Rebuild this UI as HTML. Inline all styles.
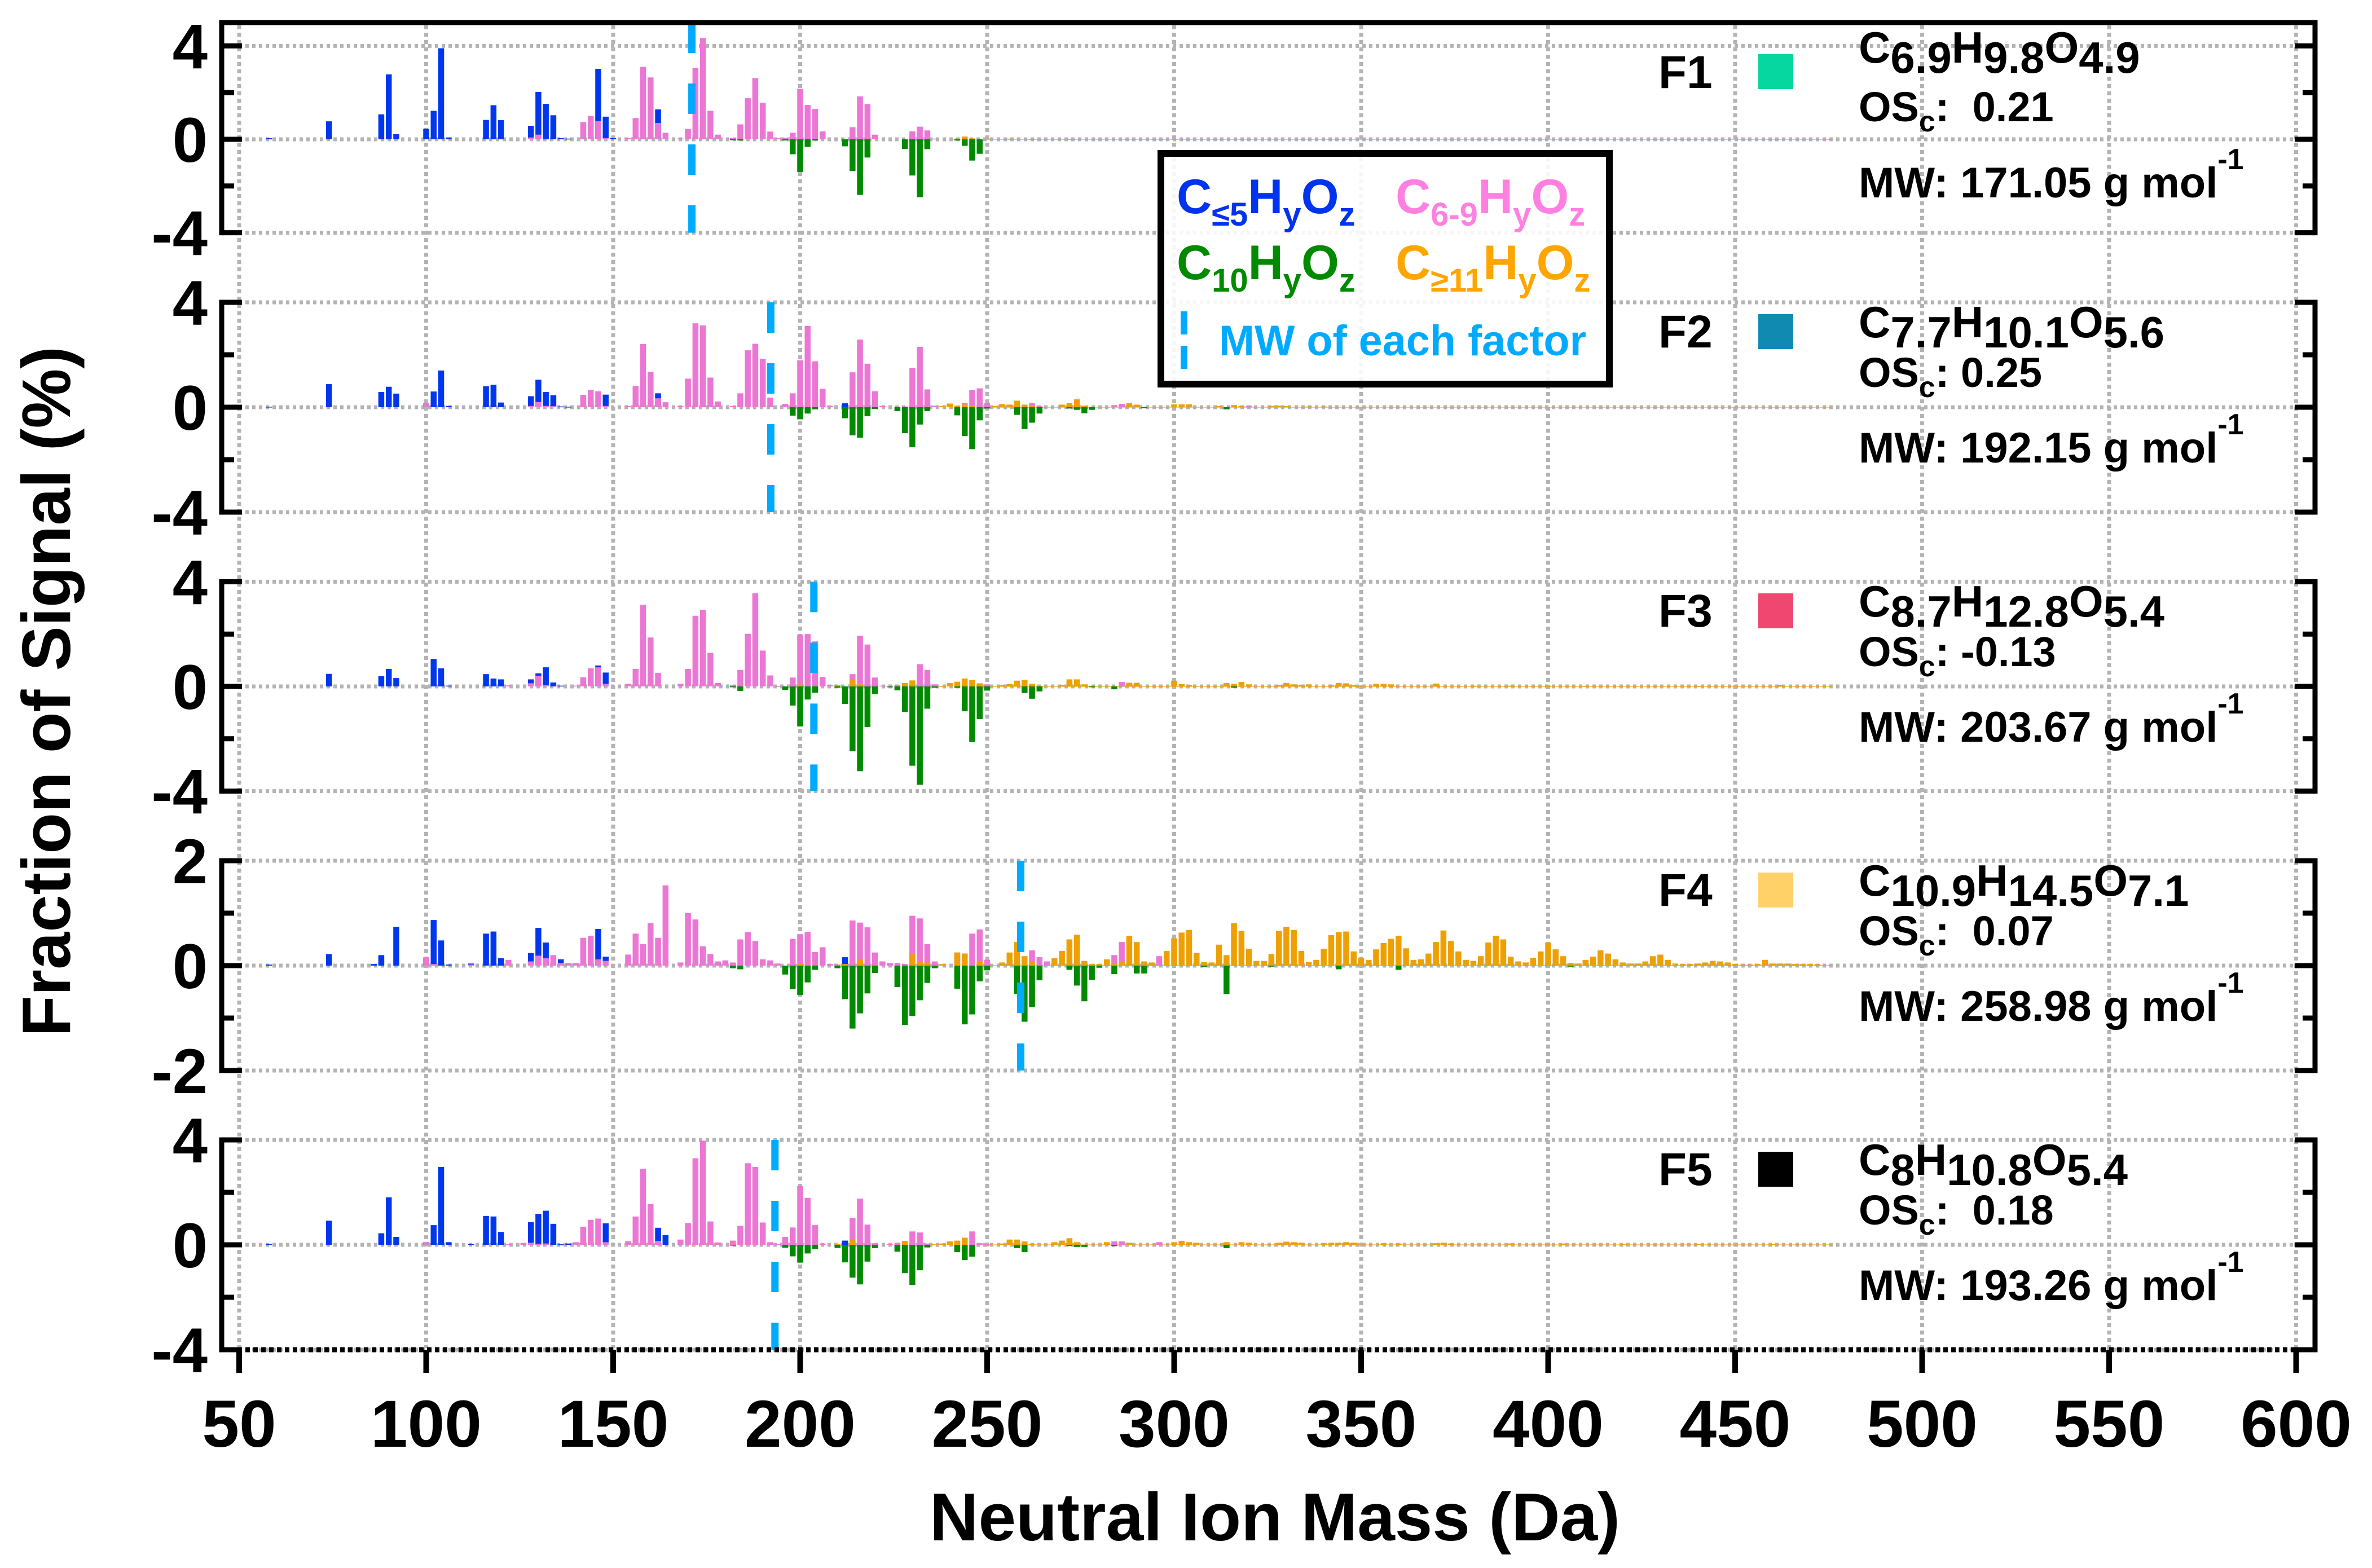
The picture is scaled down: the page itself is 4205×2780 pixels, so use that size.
<!DOCTYPE html>
<html><head><meta charset="utf-8"><style>
html,body{margin:0;padding:0;background:#fff}
svg{display:block}
text{font-family:"Liberation Sans",Arial,sans-serif;font-weight:bold}
</style></head><body>
<svg id="chart" xmlns="http://www.w3.org/2000/svg" width="4205" height="2780" viewBox="0 0 4205 2780">
<rect x="0" y="0" width="4205" height="2780" fill="#fff"/>
<g id="grid"></g>
<g id="bars"></g>
<g id="mwlines"></g>
<g id="axes"></g>
<g id="legend">
  <rect x="2058" y="272" width="795" height="409" fill="#fff" fill-opacity="0.88" stroke="#000" stroke-width="12"/>
  <text x="2086" y="378" font-size="86" fill="#0033ee">C<tspan font-size="58" dy="22">≤5</tspan><tspan dy="-22">H</tspan><tspan font-size="58" dy="22">y</tspan><tspan dy="-22">O</tspan><tspan font-size="58" dy="22">z</tspan></text>
  <text x="2474" y="378" font-size="86" fill="#ff80e0">C<tspan font-size="58" dy="22">6-9</tspan><tspan dy="-22">H</tspan><tspan font-size="58" dy="22">y</tspan><tspan dy="-22">O</tspan><tspan font-size="58" dy="22">z</tspan></text>
  <text x="2086" y="495" font-size="86" fill="#008a00">C<tspan font-size="58" dy="22">10</tspan><tspan dy="-22">H</tspan><tspan font-size="58" dy="22">y</tspan><tspan dy="-22">O</tspan><tspan font-size="58" dy="22">z</tspan></text>
  <text x="2474" y="495" font-size="86" fill="#ffa500">C<tspan font-size="58" dy="22">≥11</tspan><tspan dy="-22">H</tspan><tspan font-size="58" dy="22">y</tspan><tspan dy="-22">O</tspan><tspan font-size="58" dy="22">z</tspan></text>
  <line x1="2099" y1="552" x2="2099" y2="654" stroke="#00aaff" stroke-width="12" stroke-dasharray="41 20"/>
  <text x="2161" y="630" font-size="76" fill="#00aaff" textLength="651" lengthAdjust="spacingAndGlyphs">MW of each factor</text>
</g>
<g id="info"></g>
<text x="2260" y="2731" font-size="120" text-anchor="middle" textLength="1224" lengthAdjust="spacingAndGlyphs">Neutral Ion Mass (Da)</text>
<text transform="translate(124,1226) rotate(-90)" font-size="122" text-anchor="middle" textLength="1224" lengthAdjust="spacingAndGlyphs">Fraction of Signal (%)</text>
</svg>
<script>
// ---- data ----
const xTicks = [50,100,150,200,250,300,350,400,450,500,550,600];
const panelNames = ['F1','F2','F3','F4','F5'];
const yLimits = [4,4,4,2,4];
const mwValues = [171.05,192.15,203.67,258.98,193.26];
const formulaC = ['6.9','7.7','8.7','10.9','8'];
const formulaH = ['9.8','10.1','12.8','14.5','10.8'];
const formulaO = ['4.9','5.6','5.4','7.1','5.4'];
const oscValues = ['  0.21',' 0.25',' -0.13','  0.07','  0.18'];
const swatchColors = ['#06d6a0','#118ab2','#ef476f','#ffd166','#000000'];

const f1Blue = [[58,.05],[74,.77],[88,1.07],[90,2.78],[92,.22],[100,.45],[102,1.22],[104,3.9],[106,.08],[116,.83],[118,1.46],[120,.82],[128,.58],[130,2.03],[132,1.52],[134,1.03],[136,.05],[138,.03],[146,3.02],[148,.97],[150,.05],[162,1.28]];
const f1Pink = [[128,.08],[130,.2],[142,.74],[144,1.0],[146,.78],[148,.05],[154,.05],[156,.91],[158,3.1],[160,2.65],[162,.70],[164,.28],[168,.04],[170,.44],[172,3.06],[174,4.34],[176,1.22],[178,.2],[182,.05],[184,.64],[186,1.76],[188,2.62],[190,1.56],[192,.33],[194,.05],[196,.07],[198,.28],[200,2.16],[202,1.47],[204,1.3],[206,.34],[214,.52],[216,1.84],[218,1.51],[220,.2],[230,.34],[232,.54],[234,.38],[236,.03]];
const f1Green = [[182,-.03],[184,-.05],[196,-.05],[198,-.64],[200,-1.4],[202,-.32],[204,-.05],[212,-.3],[214,-1.36],[216,-2.38],[218,-.78],[228,-.41],[230,-1.55],[232,-2.48],[234,-.42],[242,-.05],[244,-.28],[246,-.91],[248,-.62]];
const f1Orange = [[242,.03],[244,.12],[246,.04],[250,.03],[256,.03],[262,.02],[272,.02],[300,.02]];

const f2Blue = [[58,.02],[74,.88],[88,.58],[90,.78],[92,.52],[100,.15],[102,.6],[104,1.4],[106,.05],[116,.8],[118,.86],[120,.18],[128,.42],[130,1.05],[132,.58],[134,.46],[136,.03],[138,.02],[146,.05],[148,.48],[162,.53],[212,.15]];
const f2Pink = [[100,.15],[128,.05],[130,.2],[132,.05],[134,.04],[142,.47],[144,.66],[146,.61],[148,.05],[154,.05],[156,.81],[158,2.41],[160,1.35],[162,.34],[164,.19],[168,.05],[170,1.09],[172,3.2],[174,3.12],[176,1.13],[178,.22],[182,.05],[184,.53],[186,2.17],[188,2.42],[190,1.85],[192,.37],[196,.13],[198,.53],[200,1.79],[202,3.1],[204,1.75],[206,.7],[208,.05],[214,1.33],[216,2.58],[218,1.66],[220,.61],[222,.05],[228,.03],[230,1.5],[232,2.3],[234,.68],[236,.06],[244,.17],[246,.66],[248,.72],[250,.16],[262,.16],[264,.04],[284,.08],[286,.13],[320,.05]];
const f2Green = [[198,-.32],[200,-.46],[202,-.24],[204,-.08],[212,-.42],[214,-1.07],[216,-1.16],[218,-.34],[220,-.07],[226,-.15],[228,-.99],[230,-1.52],[232,-.66],[234,-.15],[242,-.31],[244,-1.1],[246,-1.6],[248,-.5],[250,-.05],[258,-.29],[260,-.83],[262,-.59],[264,-.24],[272,-.05],[274,-.1],[276,-.23],[278,-.1],[292,-.03],[314,-.08]];
const f2Orange = [[238,.05],[240,.14],[242,.05],[244,.1],[246,.05],[252,.05],[254,.12],[256,.1],[258,.25],[260,.1],[262,.05],[270,.1],[272,.15],[274,.3],[276,.06],[288,.16],[290,.1],[300,.11],[302,.11],[304,.11],[312,.05],[316,.08],[318,.05],[326,.05],[328,.06],[330,.04],[336,.03],[340,.03]];

const f3Blue = [[74,.48],[88,.39],[90,.67],[92,.32],[102,1.05],[104,.69],[106,.03],[116,.47],[118,.3],[120,.27],[128,.27],[130,.5],[132,.73],[134,.15],[136,.03],[146,.8],[148,.53]];
const f3Pink = [[122,.04],[128,.12],[130,.41],[132,.05],[140,.03],[142,.35],[144,.69],[146,.73],[148,.1],[154,.1],[156,.67],[158,3.12],[160,1.87],[162,.52],[168,.1],[170,.67],[172,2.7],[174,2.93],[176,1.28],[178,.13],[182,.05],[184,.63],[186,2.01],[188,3.56],[190,1.37],[192,.42],[194,.02],[198,.34],[200,1.98],[202,2.0],[204,1.72],[206,.36],[208,.05],[214,.47],[216,1.94],[218,1.6],[220,.34],[222,.03],[226,.04],[228,.05],[230,.03],[232,.85],[234,.63],[236,.08],[250,.08],[286,.17]];
const f3Green = [[182,-.02],[184,-.17],[196,-.13],[198,-.73],[200,-1.53],[202,-.5],[204,-.24],[210,-.05],[212,-.67],[214,-2.48],[216,-3.24],[218,-1.55],[220,-.28],[224,-.03],[226,-.15],[228,-.97],[230,-3.03],[232,-3.76],[234,-.85],[236,-.05],[242,-.05],[244,-.95],[246,-2.12],[248,-1.25],[250,-.16],[260,-.25],[262,-.47],[264,-.19],[278,-.03],[284,-.11],[316,-.05]];
const f3Orange = [[200,.07],[210,.05],[214,.24],[216,.08],[228,.13],[230,.23],[238,.02],[240,.13],[242,.18],[244,.3],[246,.24],[248,.12],[254,.05],[256,.09],[258,.22],[260,.25],[262,.1],[270,.06],[272,.27],[274,.27],[276,.08],[288,.14],[290,.14],[300,.22],[302,.09],[304,.06],[314,.13],[316,.1],[318,.17],[320,.08],[328,.05],[330,.13],[332,.08],[334,.06],[336,.08],[342,.05],[344,.13],[346,.12],[348,.05],[354,.1],[356,.1],[358,.08],[370,.11],[380,.03],[390,.03],[400,.03],[410,.02],[440,.02],[462,.06]];

const f4Blue = [[58,.02],[74,.22],[86,.03],[88,.2],[92,.74],[100,.14],[102,.87],[104,.48],[106,.02],[112,.04],[116,.61],[118,.65],[120,.14],[128,.24],[130,.72],[132,.44],[136,.12],[146,.7],[148,.17],[212,.16]];
const f4Pink = [[100,.16],[102,.03],[112,.02],[122,.11],[128,.08],[130,.19],[132,.14],[134,.2],[136,.05],[138,.05],[140,.05],[142,.53],[144,.57],[146,.12],[148,.09],[154,.21],[156,.61],[158,.41],[160,.81],[162,.53],[164,1.53],[168,.06],[170,1.0],[172,.88],[174,.37],[176,.22],[178,.08],[180,.1],[182,.06],[184,.5],[186,.64],[188,.47],[190,.12],[192,.1],[194,.04],[198,.51],[200,.6],[202,.64],[204,.26],[206,.35],[208,.03],[210,.02],[214,.86],[216,.82],[218,.73],[220,.25],[222,.08],[224,.05],[226,.05],[228,.03],[230,.95],[232,.9],[234,.41],[236,.08],[242,.25],[244,.23],[246,.61],[248,.69],[250,.11],[262,.29],[264,.16],[266,.08],[284,.2],[286,.45],[296,.18],[322,.02]];
const f4Green = [[182,-.05],[184,-.07],[196,-.17],[198,-.45],[200,-.56],[202,-.32],[204,-.08],[210,-.05],[212,-.64],[214,-1.2],[216,-.91],[218,-.53],[220,-.14],[226,-.41],[228,-1.13],[230,-.96],[232,-.66],[234,-.33],[236,-.05],[242,-.44],[244,-1.12],[246,-.93],[248,-.3],[250,-.09],[258,-.54],[260,-1.07],[262,-.79],[264,-.28],[272,-.08],[274,-.38],[276,-.68],[278,-.27],[280,-.04],[284,-.16],[290,-.15],[292,-.15],[308,-.03],[314,-.54],[326,-.02],[344,-.07],[360,-.08],[406,-.02]];
const f4Orange = [[200,.03],[212,.03],[216,.12],[230,.22],[232,.07],[234,.06],[238,.03],[242,.25],[244,.23],[248,.09],[254,.06],[256,.25],[258,.45],[260,.18],[262,.08],[268,.14],[270,.28],[272,.5],[274,.59],[276,.09],[278,.03],[280,.03],[282,.12],[284,.05],[286,.08],[288,.57],[290,.45],[292,.08],[294,.06],[298,.28],[300,.52],[302,.63],[304,.68],[306,.24],[308,.07],[310,.06],[312,.4],[314,.2],[316,.81],[318,.66],[320,.32],[322,.09],[324,.09],[326,.22],[328,.66],[330,.74],[332,.68],[334,.28],[336,.07],[338,.11],[340,.32],[342,.58],[344,.64],[346,.65],[348,.27],[350,.14],[352,.11],[354,.31],[356,.43],[358,.51],[360,.57],[362,.33],[364,.11],[366,.12],[368,.23],[370,.45],[372,.67],[374,.47],[376,.27],[378,.11],[380,.09],[382,.18],[384,.44],[386,.57],[388,.5],[390,.17],[392,.08],[394,.06],[396,.15],[398,.27],[400,.44],[402,.31],[404,.18],[406,.05],[408,.04],[410,.11],[412,.17],[414,.29],[416,.23],[418,.12],[420,.06],[422,.04],[424,.04],[426,.08],[428,.18],[430,.21],[432,.11],[434,.04],[436,.03],[438,.03],[440,.04],[442,.06],[444,.09],[446,.08],[448,.06],[450,.03],[452,.02],[454,.02],[456,.03],[458,.11],[460,.04],[462,.04],[464,.04],[466,.03],[468,.03],[470,.03],[472,.03]];

const f5Blue = [[58,.03],[74,.92],[88,.44],[90,1.81],[92,.3],[100,.1],[102,.75],[104,2.97],[106,.1],[112,.03],[116,1.1],[118,1.08],[120,.49],[128,.87],[130,1.18],[132,1.3],[134,.8],[136,.02],[138,.05],[148,.82],[162,.65],[164,.37],[212,.16]];
const f5Pink = [[100,.1],[122,.02],[126,.07],[128,.08],[130,.04],[132,.05],[140,.1],[142,.69],[144,.95],[146,1.0],[148,.1],[154,.14],[156,1.08],[158,2.9],[160,1.55],[162,.15],[168,.2],[170,.83],[172,3.3],[174,3.97],[176,.89],[178,.09],[182,.16],[184,.72],[186,3.11],[188,2.97],[190,.85],[192,.1],[194,.03],[196,.3],[198,.66],[200,2.24],[202,1.79],[204,.75],[206,.05],[214,1.03],[216,1.76],[218,.77],[220,.06],[224,.03],[226,.08],[230,.51],[232,.47],[234,.05],[242,.15],[246,.51],[248,.06],[250,.02],[284,.13],[286,.13],[296,.1]];
const f5Green = [[182,-.02],[196,-.11],[198,-.44],[200,-.68],[202,-.33],[204,-.16],[210,-.12],[212,-.67],[214,-1.25],[216,-1.51],[218,-.64],[220,-.13],[226,-.26],[228,-1.08],[230,-1.53],[232,-.97],[234,-.1],[242,-.28],[244,-.58],[246,-.45],[258,-.13],[260,-.28],[272,-.04],[274,-.08],[276,-.08],[284,-.05],[314,-.13]];
const f5Orange = [[210,.03],[214,.21],[228,.15],[236,.02],[238,.05],[240,.13],[242,.16],[244,.27],[254,.05],[256,.2],[258,.2],[260,.13],[262,.04],[268,.1],[270,.16],[272,.25],[274,.1],[282,.1],[288,.08],[300,.1],[302,.15],[304,.1],[306,.08],[314,.1],[318,.1],[320,.08],[328,.08],[330,.12],[332,.1],[334,.08],[340,.06],[342,.08],[344,.08],[346,.1],[348,.08],[356,.06],[360,.05],[370,.06],[372,.08],[374,.05],[390,.05],[404,.05],[420,.03],[440,.03],[460,.03]];

const blueSeries = [f1Blue,f2Blue,f3Blue,f4Blue,f5Blue];
const pinkSeries = [f1Pink,f2Pink,f3Pink,f4Pink,f5Pink];
const orangeSeries = [f1Orange,f2Orange,f3Orange,f4Orange,f5Orange];
const greenSeries = [f1Green,f2Green,f3Green,f4Green,f5Green];

// ---- layout ----
const NS = 'http://www.w3.org/2000/svg';
const X0 = 424, PXDA = 6.63, AXL = 393, AXR = 4104, TOPB = 40;
const zeroY = [247, 722, 1217, 1712, 2207];
const unitPx = [41.4, 46.5, 46.4, 93, 46.5];
const xScale = m => X0 + (m - 50) * PXDA;
const yScale = (p, v) => zeroY[p] - v * unitPx[p];
function mk(tag, attrs, parent){ const e=document.createElementNS(NS,tag); for(const k in attrs) e.setAttribute(k,attrs[k]); parent.appendChild(e); return e; }
const gGrid = document.getElementById('grid'), gBars = document.getElementById('bars'), gMw = document.getElementById('mwlines'), gAx = document.getElementById('axes'), gInfo = document.getElementById('info');

xTicks.forEach(t => {
  const l = mk('line',{x1:xScale(t),x2:xScale(t),y1:TOPB+5,y2:2390,stroke:'#b4b4b4','stroke-width':7,'stroke-dasharray':'7 6'},gGrid);
  
  
});
for (let p=0;p<5;p++){
  const lim = yLimits[p];
  [lim,0,-lim].forEach((v,i) => {
    const y = yScale(p,v);
    const l = mk('line',{x1:AXL+6,x2:AXR-6,y1:y,y2:y,stroke:'#b4b4b4','stroke-width':7,'stroke-dasharray':'6 6'},gGrid);
    
    
  });
  const tr = mk('line',{x1:xScale(250),x2:xScale(476),y1:zeroY[p],y2:zeroY[p],stroke:'#f0a000','stroke-width':1.5,'stroke-opacity':0.7},gBars);
  
  
  const drawSeries = (arr, color, name) => {
    arr.forEach(d => {
      const y0 = zeroY[p], y1 = yScale(p, d[1]);
      const r = mk('rect',{x:xScale(d[0])-5.25,y:Math.min(y0,y1),width:10.5,height:Math.max(1.5,Math.abs(y1-y0)),fill:color},gBars);
      
      
    });
  };
  drawSeries(blueSeries[p],'#0037ee','bar-c5');
  drawSeries(pinkSeries[p],'#ec76d4','bar-c6-9');
  drawSeries(orangeSeries[p],'#eea000','bar-c11');
  drawSeries(greenSeries[p],'#008a00','bar-c10');
  const yTop = p===0 ? TOPB : yScale(p,lim);
  const mw = mk('line',{x1:xScale(mwValues[p]),x2:xScale(mwValues[p]),y1:yTop,y2:yScale(p,-lim),stroke:'#00aaff','stroke-width':13,'stroke-dasharray':'54 54'},gMw);
  
  
  const yb = yScale(p,-lim);
  const la = mk('line',{x1:AXL,x2:AXL,y1:yTop-4.5,y2:yb+4.5,stroke:'#000','stroke-width':9},gAx);
  
  
  const ra = mk('line',{x1:AXR,x2:AXR,y1:yTop-4.5,y2:yb+4.5,stroke:'#000','stroke-width':9},gAx);
  
  
  [lim, lim/2, 0, -lim/2, -lim].forEach((v,i) => {
    const y = yScale(p,v), major = (i%2===0);
    const len = major ? 36 : 22;
    const t1 = mk('line',{x1:AXL,x2:AXL+len,y1:y,y2:y,stroke:'#000','stroke-width':9},gAx);
    
    
    const t2 = mk('line',{x1:AXR-len,x2:AXR,y1:y,y2:y,stroke:'#000','stroke-width':9},gAx);
    
    
    if (major){
      const tl = mk('text',{x:368,y:y+40,'font-size':112,'text-anchor':'end'},gAx);
      tl.textContent = String(v);
      
      
    }
  });
  const z = zeroY[p];
  const pos = p===0 ? {fl:156,sw:96,fo:111,os:215,mw:350} : {fl:z-106,sw:z-165,fo:z-124,os:z-36,mw:z+98};
  const fl = mk('text',{x:2940,y:pos.fl,'font-size':82},gInfo);
  fl.textContent = panelNames[p];
  
  
  const sw = mk('rect',{x:3117,y:pos.sw,width:62,height:62,fill:swatchColors[p]},gInfo);
  
  
  const fo = mk('text',{x:3295,y:pos.fo,'font-size':78},gInfo);
  
  
  [['C',0],[formulaC[p],18],['H',-18],[formulaH[p],18],['O',-18],[formulaO[p],18]].forEach(s => {
    const ts = mk('tspan',{dy:s[1]},fo); ts.textContent = s[0];
  });
  const os = mk('text',{x:3295,y:pos.os,'font-size':74},gInfo);
  os.setAttribute('style','white-space:pre');
  
  
  const a = mk('tspan',{},os); a.textContent='OS';
  const b = mk('tspan',{dy:18,'font-size':52},os); b.textContent='c';
  const c = mk('tspan',{dy:-18},os); c.textContent=':'+oscValues[p];
  const mwt = mk('text',{x:3295,y:pos.mw,'font-size':76},gInfo);
  
  
  const m1 = mk('tspan',{},mwt); m1.textContent = 'MW: '+mwValues[p].toFixed(2)+' g mol';
  const m2 = mk('tspan',{dy:-50,'font-size':52},mwt); m2.textContent='-1';
}
const tb = mk('line',{x1:AXL-4.5,x2:AXR+4.5,y1:TOPB,y2:TOPB,stroke:'#000','stroke-width':9},gAx);


const xb = mk('line',{x1:AXL,x2:AXR,y1:2393,y2:2393,stroke:'#000','stroke-width':9,'stroke-dasharray':'8 6'},gAx);


xTicks.forEach(t => {
  const tk = mk('line',{x1:xScale(t),x2:xScale(t),y1:2393,y2:2434,stroke:'#000','stroke-width':10},gAx);
  
  
  const tl = mk('text',{x:xScale(t),y:2565,'font-size':118,'text-anchor':'middle'},gAx);
  tl.textContent = String(t);
  
  
});
</script>
</body></html>
